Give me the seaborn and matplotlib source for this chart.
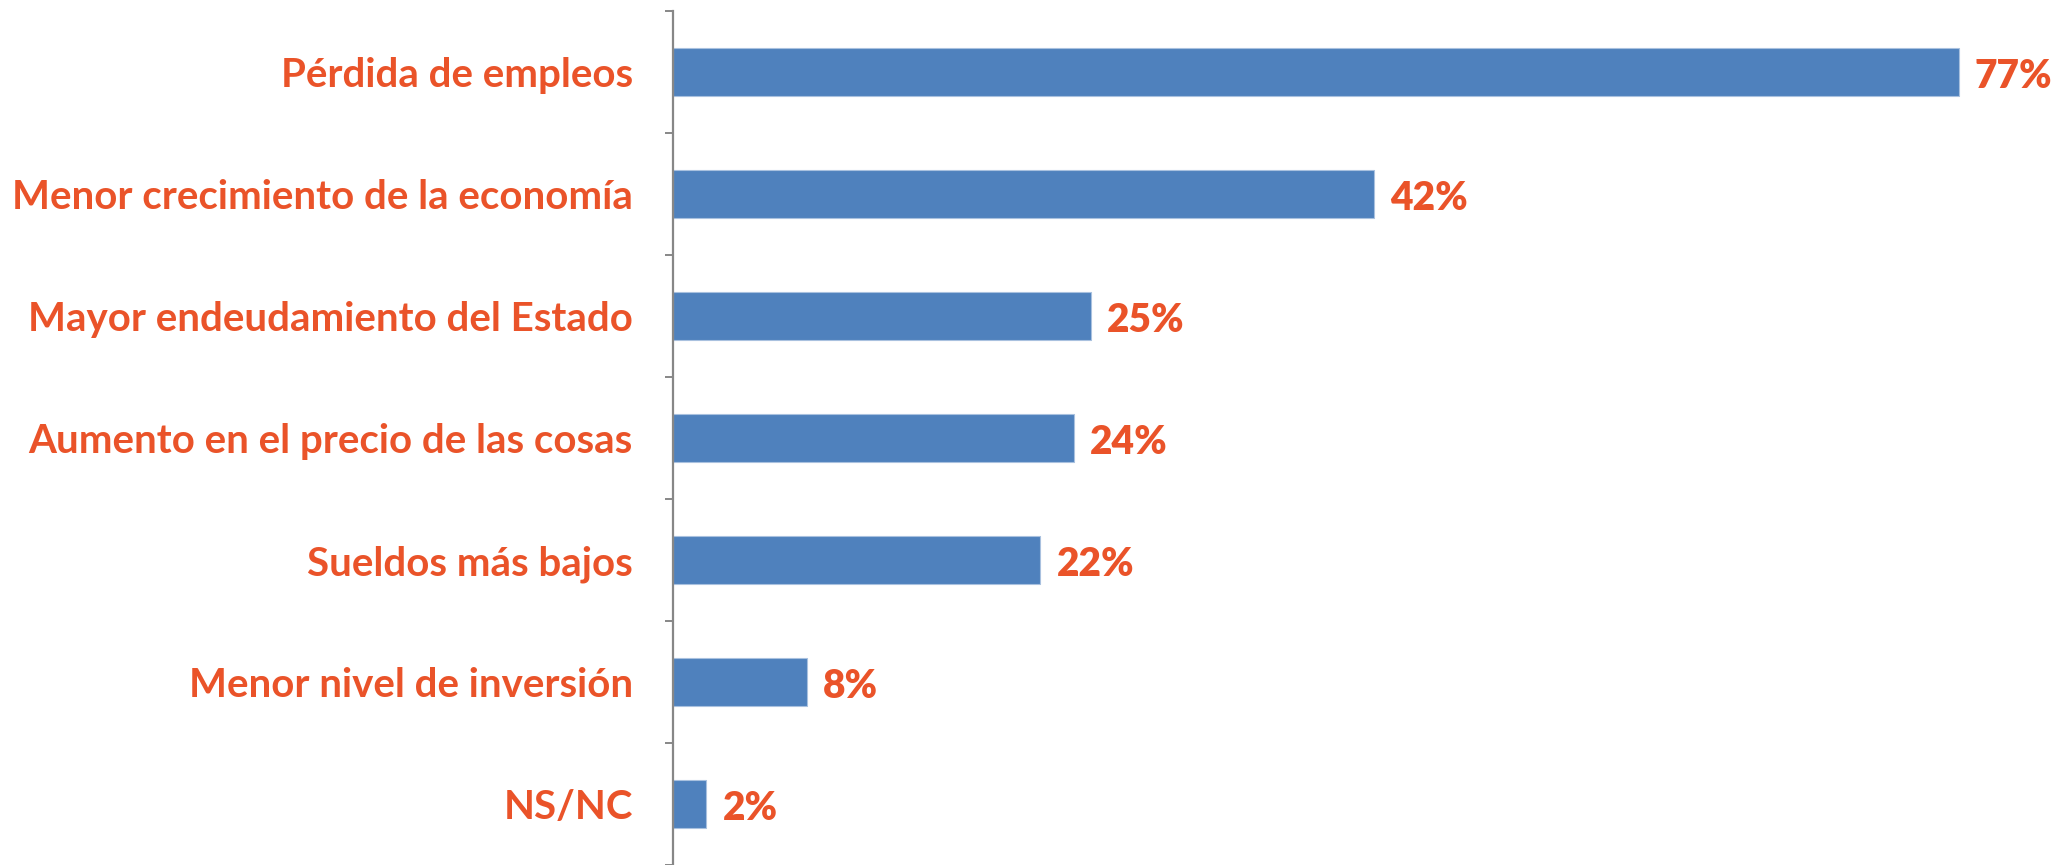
import matplotlib
matplotlib.use("Agg")
import matplotlib.pyplot as plt
import seaborn as sns
import pandas as pd
from matplotlib.ticker import FixedLocator

categories = ["Pérdida de empleos", "Menor crecimiento de la economía",
              "Mayor endeudamiento del Estado", "Aumento en el precio de las cosas",
              "Sueldos más bajos", "Menor nivel de inversión", "NS/NC"]
values = [77, 42, 25, 24, 22, 8, 2]
value_labels = ["77%", "42%", "25%", "24%", "22%", "8%", "2%"]

sns.set_style("white")
plt.rcParams['font.family'] = ['Lato', 'DejaVu Sans']

W, H = 2062, 865
fig = plt.figure(figsize=(W / 100, H / 100), dpi=100)
left = 673 / W
ax = fig.add_axes([left, 0, 1 - left, 1 - 11 / H])

df = pd.DataFrame({"cat": categories, "val": values})
sns.barplot(data=df, y="cat", x="val", orient="h", color="#4F81BD",
            width=0.39, saturation=1, edgecolor="#A9C1DF", linewidth=0.8, ax=ax)

text_color = "#EA5329"
per_pct = 16.70
ax.set_xlim(0, (W - 673) / per_pct)
ax.set_ylim(len(categories) - 0.5, -0.5)

for i, (v, lab) in enumerate(zip(values, value_labels)):
    ax.text(v + 16 / per_pct, i + 0.04, lab, va="center", ha="left",
            fontsize=28, fontweight="heavy", color=text_color)

ax.set_xlabel("")
ax.set_ylabel("")
ax.set_xticks([])
for s in ["top", "right", "bottom"]:
    ax.spines[s].set_visible(False)
ax.spines["left"].set_color("#878787")
ax.spines["left"].set_linewidth(1.6)

# category labels at centers, boundary ticks between categories
ax.yaxis.set_major_locator(FixedLocator([i - 0.5 for i in range(len(categories) + 1)]))
ax.yaxis.set_major_formatter(plt.NullFormatter())
ax.yaxis.set_minor_locator(FixedLocator(list(range(len(categories)))))
ax.set_yticklabels(categories, minor=True)
ax.tick_params(axis="y", which="major", length=6, width=1.4, color="#878787", direction="out", left=True)
ax.tick_params(axis="y", which="minor", length=0, pad=29)
for t in ax.get_yticklabels(minor=True):
    t.set_fontsize(29)
    t.set_fontweight("bold")
    t.set_color(text_color)

fig.savefig("out.png", dpi=100)
